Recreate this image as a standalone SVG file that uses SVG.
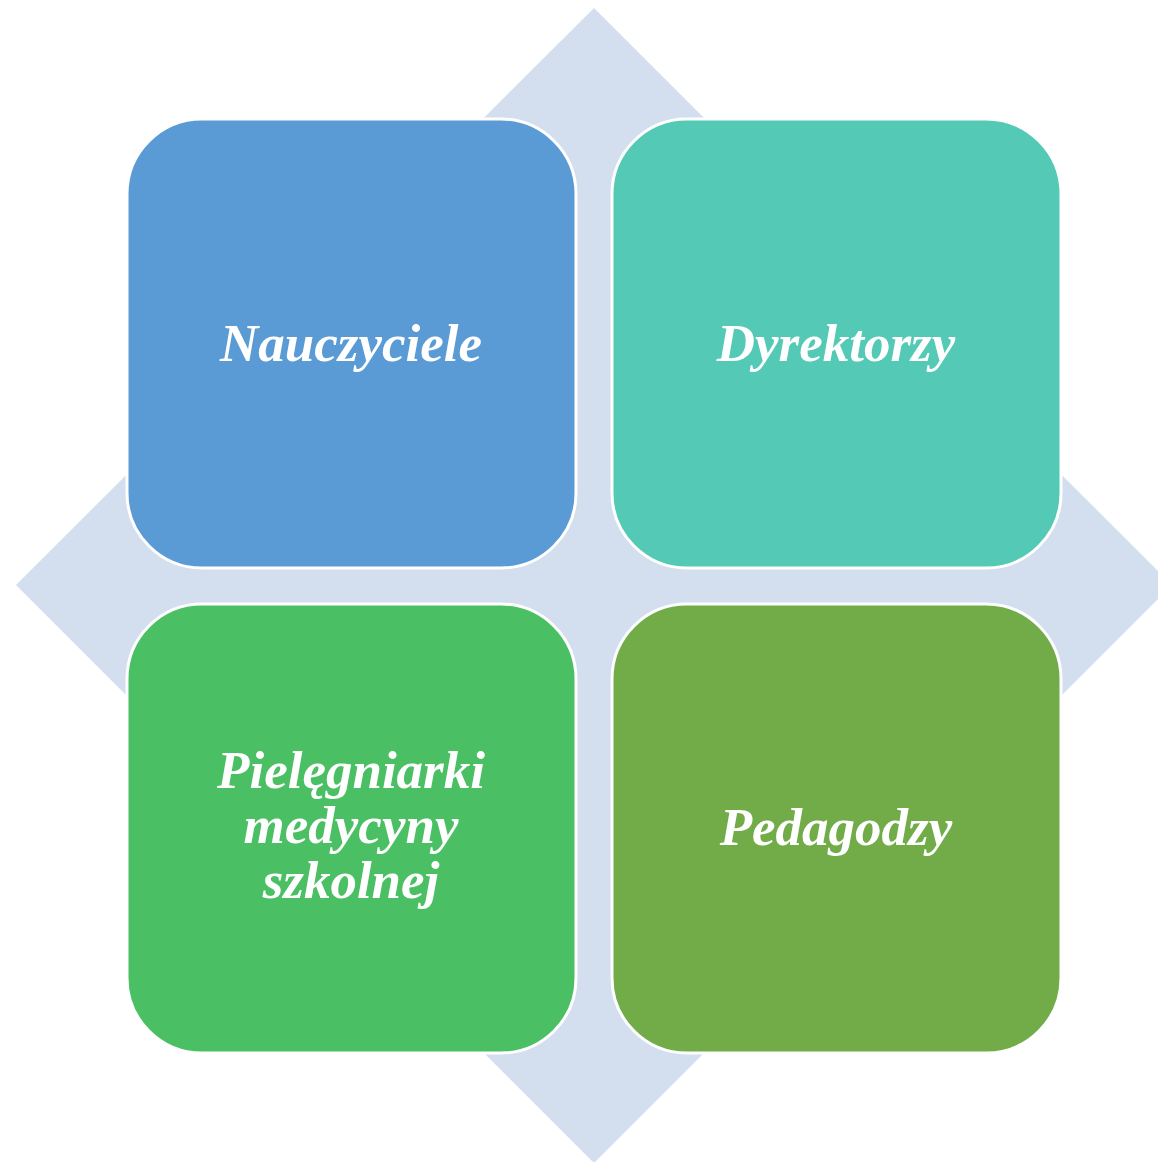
<svg xmlns="http://www.w3.org/2000/svg" width="1158" height="1162" viewBox="0 0 1158 1162">
<style>
.box{stroke:#fff;stroke-width:3}
.lbl{font-family:"Liberation Serif","Times New Roman",serif;font-weight:bold;font-style:italic;font-size:53px;fill:#fff;text-anchor:middle}
</style>
<rect width="1158" height="1162" fill="#fff"/>
<g id="diamond"><polygon points="594,8 1172,585 594,1163 16,585" fill="#D3DEEF"/></g>
<g id="connectors"></g>
<g id="nauczyciele"><rect class="box" x="127" y="119" width="449" height="449" rx="75" fill="#5B9BD5"/><text class="lbl" x="351" y="361">Nauczyciele</text></g>
<g id="dyrektorzy"><rect class="box" x="612" y="119" width="449" height="449" rx="75" fill="#53C9B6"/><text class="lbl" x="836" y="361">Dyrektorzy</text></g>
<g id="pielegniarki"><rect class="box" x="127" y="604" width="449" height="449" rx="75" fill="#4ABF64"/><text class="lbl" x="351" y="788">Pielęgniarki</text><text class="lbl" x="351" y="843">medycyny</text><text class="lbl" x="351" y="898">szkolnej</text></g>
<g id="pedagodzy"><rect class="box" x="612" y="604" width="449" height="449" rx="75" fill="#71AC49"/><text class="lbl" x="836" y="845">Pedagodzy</text></g>
</svg>
